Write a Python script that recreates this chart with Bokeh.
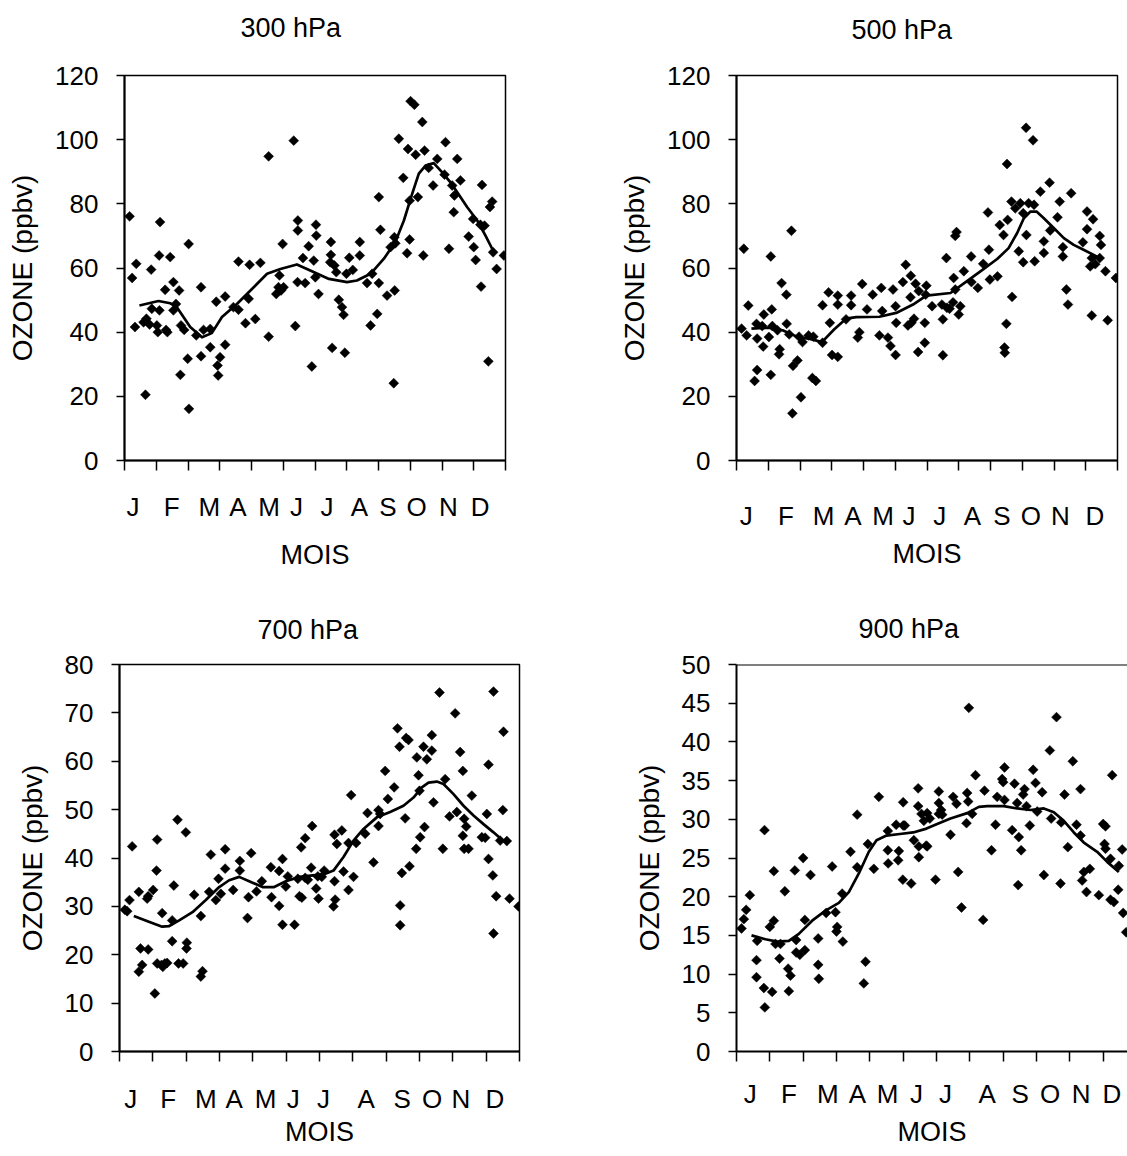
import math
from bokeh.plotting import figure
from bokeh.models import Range1d, FixedTicker, Span, Title
from bokeh.layouts import column, row
from bokeh.embed import file_html
from bokeh.resources import INLINE

# ---------------- data (x = month index, 0 = start of January) ----------------
MONTHS = ["J", "F", "M", "A", "M", "J", "J", "A", "S", "O", "N", "D"]
MONTH_EDGES = list(range(13))

# 300 hPa
p300_month = [0.16,0.37,0.24,0.33,0.84,1.12,1.09,1.44,0.66,0.60,0.69,0.79,0.86,1.02,1.05,1.10,1.31,1.35,1.28,1.54,
              1.72,1.62,1.54,1.78,1.88,2.02,1.99,1.76,2.03,2.41,2.26,2.49,2.70,2.41,2.70,2.89,3.17,3.01,2.93,2.95,
              3.17,3.59,3.94,4.28,3.43,3.59,3.81,4.12,3.91,4.54,4.54,5.33,4.98,4.88,4.78,4.85,5.01,4.93,5.46,5.46,
              5.38,5.45,5.62,5.80,5.69,5.90,6.03,6.04,5.96,6.01,6.11,
              6.50,6.50,6.48,6.61,6.67,6.75,6.85,6.90,6.54,6.94,7.08,7.19,6.99,7.41,7.41,7.64,7.80,8.01,8.27,8.51,
              7.96,7.75,8.01,8.06,8.38,8.50,8.53,8.48,8.90,8.98,9.41,8.64,8.78,8.93,9.17,9.01,9.13,9.38,9.45,9.24,
              8.98,9.58,9.72,9.85,10.11,10.08,10.32,10.48,10.58,10.39,10.37,10.22,10.84,11.00,11.06,11.26,11.58,
              11.51,10.98,11.21,11.34,11.23,11.61,11.72,11.46,11.95]
p300_ozone = [76.1,61.3,56.9,41.6,59.5,74.3,63.9,63.4,20.5,43.1,44.2,42.4,47.3,42.1,40.0,46.8,40.7,40.0,53.2,55.6,
              53.0,48.8,46.8,42.1,40.7,67.5,31.7,26.7,16.1,54.0,39.0,40.7,41.0,32.5,35.3,49.5,51.1,32.2,29.6,26.5,
              36.1,62.0,61.0,61.6,47.8,47.0,42.8,44.1,50.4,94.8,38.6,99.7,67.5,57.7,51.9,54.0,54.0,53.0,74.8,71.7,
              41.9,55.6,63.1,66.8,55.3,29.3,73.5,70.1,62.3,57.1,51.9,
              68.1,64.1,61.8,60.8,58.7,50.1,47.8,45.4,35.1,33.6,63.2,59.4,58.2,68.1,63.9,55.3,58.2,55.3,51.4,53.0,
              45.7,42.1,82.1,71.9,66.5,69.6,67.7,24.1,64.6,68.9,63.9,100.3,88.1,97.1,95.3,112.0,110.9,105.5,96.6,82.1,
              81.0,91.2,85.7,94.0,99.2,89.1,85.7,94.0,87.3,82.6,77.4,66.0,69.8,66.5,62.5,85.9,80.7,
              79.0,75.3,73.5,73.2,54.2,64.9,59.7,30.9,63.9]
p300_fit_month = [0.47,1.07,1.44,1.65,2.07,2.44,2.75,3.07,3.54,4.07,4.49,4.91,5.43,5.85,6.44,7.01,7.32,7.75,8.17,
                  8.53,8.80,9.06,9.27,9.48,9.74,10.0,10.26,10.48,10.79,11.11,11.37,11.58]
p300_fit_ozone = [48.3,49.7,49.0,47.8,41.6,38.4,39.7,44.7,48.8,54.0,58.2,59.7,61.1,59.2,56.6,55.6,56.1,58.2,62.9,
                  68.1,74.8,83.1,89.4,91.9,92.7,89.9,86.8,83.6,79.0,74.8,70.1,66.0]

# 500 hPa
p500_month = [0.16,0.23,0.32,0.37,0.57,0.65,0.63,0.65,0.86,0.84,0.81,1.08,1.11,1.02,1.08,1.13,1.29,1.34,1.36,1.42,
              1.57,1.58,1.66,1.73,1.78,1.92,1.76,2.03,1.97,2.08,2.27,2.42,2.39,2.50,2.71,2.71,2.90,2.94,3.01,3.19,
              3.19,3.19,3.45,3.61,3.61,3.96,3.87,3.82,4.11,4.29,4.56,4.59,4.50,4.77,4.85,5.01,4.93,5.01,5.03,5.24,
              5.33,5.49,5.48,5.40,5.51,5.59,5.64,5.74,5.72,5.93,5.93,5.96,5.98,
              6.16,6.47,6.50,6.50,6.63,6.71,6.82,7.00,7.05,6.89,6.84,6.61,6.89,6.93,7.16,7.39,7.40,7.60,7.77,7.95,
              7.98,8.22,7.92,8.29,8.41,8.54,8.52,8.68,8.50,8.44,8.45,8.66,8.78,8.94,9.03,8.89,9.03,9.13,9.12,9.34,
              9.20,9.37,9.39,9.57,9.68,9.68,9.86,9.88,10.11,10.18,10.54,10.28,10.28,10.39,10.44,10.91,11.04,11.04,
              11.23,11.19,11.14,11.30,11.44,11.48,11.44,11.62,11.19,11.69,11.95]
p500_ozone = [41.1,66.0,39.0,48.3,24.8,28.2,42.6,38.0,45.5,35.5,41.9,63.6,47.1,38.5,26.7,41.9,40.6,33.1,34.7,55.3,
              51.7,42.6,39.3,71.6,29.5,31.2,14.7,19.7,38.6,36.9,39.0,38.6,25.7,24.8,36.7,48.4,52.4,42.9,32.9,32.3,
              51.4,48.6,44.0,51.4,48.4,55.0,40.0,38.3,47.1,51.7,53.8,46.6,39.0,38.3,35.7,32.9,53.3,48.1,42.9,55.6,
              61.0,57.6,50.9,42.1,42.9,44.2,55.1,52.8,33.8,42.9,36.7,51.7,54.5,
              48.1,48.6,44.0,32.8,47.6,47.3,49.3,45.5,48.1,53.3,56.9,63.1,70.0,71.2,59.0,63.6,55.6,53.8,61.3,65.7,
              56.4,57.4,77.3,73.4,70.3,75.0,92.4,51.0,42.6,35.2,33.6,80.7,78.6,80.2,77.1,65.2,61.8,70.3,103.7,99.8,
              80.2,79.7,62.1,83.8,68.3,64.7,86.6,71.7,75.8,80.7,83.3,66.5,63.6,53.3,48.6,68.0,77.6,72.1,
              75.2,63.1,60.5,61.2,70.0,67.2,63.1,59.0,45.2,43.7,56.9]
p500_fit_month = [0.47,1.02,1.45,1.97,2.29,2.69,3.08,3.45,3.77,4.50,5.03,5.56,5.98,6.74,7.26,7.79,8.21,8.57,8.84,
                  9.05,9.26,9.45,9.68,10.0,10.31,10.62,10.93,11.25,11.51]
p500_fit_ozone = [41.1,41.4,40.6,38.3,38.0,36.9,40.9,44.2,44.7,44.8,46.0,48.6,51.4,52.2,55.9,59.7,62.8,66.2,70.9,
                  75.5,77.6,77.6,75.5,72.4,69.3,67.2,65.7,64.1,62.6]

# 700 hPa
p700_month = [0.16,0.23,0.30,0.38,0.58,0.63,0.68,0.58,0.86,0.83,0.86,1.01,1.06,1.13,1.11,1.28,1.13,1.26,1.36,1.43,
              1.30,1.58,1.58,1.63,1.74,1.77,1.91,1.99,2.02,2.01,2.24,2.44,2.49,2.44,2.69,2.74,2.89,2.97,3.04,3.17,
              3.17,3.41,3.61,3.61,3.84,3.87,3.95,4.11,4.27,4.54,4.56,4.79,4.89,5.25,4.79,4.89,4.99,5.05,5.40,5.47,
              5.45,5.57,5.78,5.35,5.57,5.65,5.75,5.90,5.97,5.95,
              6.14,6.07,6.45,6.47,6.42,6.72,6.87,7.02,6.45,6.67,6.52,6.87,6.95,7.10,7.37,7.62,7.44,7.77,7.77,7.82,
              7.97,8.05,8.24,8.57,8.47,8.70,8.42,8.42,8.34,8.40,8.60,8.67,8.92,8.97,9.12,9.22,9.37,9.37,9.00,9.15,
              9.02,8.90,9.42,9.60,9.77,9.70,10.07,10.22,10.30,9.90,10.12,10.34,10.40,10.30,10.34,10.47,10.57,10.87,
              10.97,11.02,11.07,11.07,11.20,11.22,11.22,11.30,11.52,11.50,11.42,11.62,11.70,11.97]
p700_ozone = [29.3,29.0,31.3,42.4,33.0,21.3,17.9,16.5,21.1,31.6,32.1,33.4,12.0,43.8,37.4,28.6,18.2,17.9,18.2,18.3,
              17.5,27.1,22.8,34.3,47.9,18.2,18.2,45.3,22.5,21.3,32.4,28.0,16.6,15.5,33.0,40.7,31.3,35.7,32.6,41.8,
              37.8,33.4,39.4,37.4,27.6,31.9,41.0,33.1,35.2,38.1,31.9,30.1,26.2,26.2,37.3,39.8,34.1,36.2,32.1,31.8,
              42.2,44.1,46.6,35.7,35.9,35.5,38.0,33.7,31.6,36.2,
              37.4,36.1,35.2,31.4,30.0,37.2,33.4,36.1,44.8,45.7,42.9,43.1,53.0,43.1,45.0,39.1,49.3,49.9,46.6,49.1,
              58.0,52.2,54.6,48.2,36.9,38.3,30.2,26.1,66.8,63.0,64.8,64.4,60.8,57.1,63.0,60.4,65.4,62.2,53.9,46.4,
              44.3,41.9,51.5,74.2,56.3,41.9,69.9,61.9,58.0,48.6,49.5,48.1,46.5,44.6,41.9,41.9,52.9,44.3,
              44.2,49.1,59.3,39.8,36.4,24.4,74.4,32.1,66.1,49.9,43.6,43.5,31.6,30.0]
p700_fit_month = [0.43,0.88,1.28,1.48,1.79,2.19,2.59,2.99,3.29,3.59,3.89,4.29,4.64,4.99,5.40,5.80,6.12,6.42,6.72,
                  7.02,7.32,7.72,8.12,8.52,8.82,9.07,9.27,9.52,9.72,10.02,10.32,10.62,10.92,11.22,11.50]
p700_fit_ozone = [28.0,26.8,25.8,25.9,27.1,28.8,31.3,34.0,35.4,36.1,35.2,34.0,34.0,35.2,36.1,36.4,36.6,37.4,40.2,
                  43.6,46.0,48.4,49.5,50.8,52.5,54.6,55.6,55.8,55.3,53.2,50.8,48.8,47.0,45.3,43.6]

# 900 hPa
p900_month = [0.15,0.22,0.29,0.40,0.60,0.60,0.62,0.84,0.82,0.85,1.07,1.00,1.12,1.12,1.17,1.29,1.32,1.45,1.55,1.62,
              1.57,1.75,1.79,1.79,1.90,2.00,2.05,2.22,2.45,2.45,2.47,2.05,2.69,2.87,2.97,3.02,3.00,3.17,3.19,3.42,
              3.62,3.62,3.87,3.82,3.94,4.12,4.27,4.54,4.54,4.55,4.79,4.87,4.85,5.00,5.00,5.05,4.99,5.24,5.32,5.47,
              5.47,5.45,5.45,5.55,5.62,5.69,
              5.72,5.80,5.72,5.97,6.07,6.07,6.07,6.14,6.17,6.42,6.50,6.60,6.65,6.75,6.92,6.95,6.90,7.07,7.17,6.97,
              7.40,7.44,7.65,7.77,7.82,7.97,8.00,8.04,8.04,8.27,8.34,8.42,8.47,8.45,8.54,8.60,8.64,8.70,8.80,8.90,
              8.97,9.02,9.17,9.22,9.40,9.44,9.60,9.72,9.74,9.84,9.94,10.09,10.20,10.32,10.32,10.37,10.42,10.60,
              10.50,10.87,11.00,11.07,11.04,11.07,11.22,11.27,11.22,11.32,11.45,11.47,11.57,11.60,11.69]
p900_ozone = [15.9,17.1,18.3,20.2,11.8,9.6,14.3,28.6,8.2,5.7,7.7,16.1,16.9,23.3,13.9,12.0,13.9,20.7,10.7,9.8,
              7.8,23.4,14.4,12.8,12.5,25.0,13.1,22.8,14.6,11.2,9.4,17.0,17.9,23.9,18.0,16.1,15.5,20.4,14.2,25.8,
              30.6,23.8,11.6,8.8,26.8,23.6,32.9,28.5,26.0,24.3,29.3,25.9,24.7,32.2,29.2,29.2,22.2,21.7,27.3,26.5,
              25.1,34.0,31.7,30.7,29.8,26.6,
              30.8,30.1,26.5,22.2,33.6,32.1,30.7,31.2,30.6,28.0,32.9,32.0,23.2,18.6,33.4,32.3,29.5,30.7,35.7,44.4,
              17.0,33.7,26.0,29.3,32.9,35.2,34.8,36.7,32.5,28.6,34.6,32.1,27.7,21.5,26.0,33.2,33.9,31.7,29.2,36.4,
              34.7,31.0,33.5,22.8,38.9,30.1,43.2,21.7,29.6,33.2,26.4,37.5,29.3,33.9,27.9,22.1,23.2,23.6,
              20.6,20.2,29.4,29.1,26.8,26.2,24.9,35.7,19.6,19.3,20.9,24.0,26.1,17.9,15.4]
p900_fit_month = [0.45,0.87,1.22,1.57,1.87,2.27,2.67,3.07,3.37,3.67,3.97,4.20,4.50,4.90,5.30,5.70,6.02,6.42,6.92,
                  7.27,7.52,8.02,8.42,8.82,9.22,9.52,9.82,10.12,10.42,10.82,11.12,11.47]
p900_fit_ozone = [15.0,14.5,14.2,14.3,15.2,16.9,18.2,19.2,20.6,23.0,25.8,27.3,27.9,28.1,28.3,28.8,29.4,30.1,30.8,
                  31.6,31.7,31.7,31.4,31.2,31.4,30.9,29.8,28.3,27.0,25.8,24.5,23.2]

# where each panel's month letters sit along the axis
p300_letter_pos = [0.27,1.49,2.67,3.57,4.55,5.42,6.38,7.40,8.30,9.20,10.20,11.20]
p500_letter_pos = [0.31,1.56,2.74,3.67,4.62,5.43,6.40,7.43,8.36,9.27,10.20,11.29]
p700_letter_pos = [0.34,1.46,2.59,3.44,4.38,5.21,6.12,7.40,8.48,9.38,10.24,11.26]
p900_letter_pos = [0.41,1.57,2.74,3.63,4.53,5.40,6.27,7.52,8.51,9.41,10.34,11.26]

FONT = "Liberation Sans"


def make_panel(title, px, py, fx, fy, y_max, y_step, letter_pos, width, height, borders,
               x_end=12.0, title_offset=115, title_gap=30, month_standoff=30,
               mois_standoff=10, ylabel_standoff=14, closed=True):
    left, right, top, bottom = borders
    p = figure(width=width, height=height, x_range=Range1d(0, x_end), y_range=Range1d(0, y_max),
               min_border_left=left, min_border_right=right, min_border_top=top,
               min_border_bottom=bottom, output_backend="svg", toolbar_location=None, tools="")
    p.background_fill_color = "white"
    p.border_fill_color = "white"
    p.xgrid.visible = False
    p.ygrid.visible = False

    # spacer between frame and title, then the title itself
    p.add_layout(Title(text=" ", text_font_size="1px", standoff=title_gap), "above")
    p.add_layout(Title(text=title, align="left", offset=title_offset, standoff=0,
                       text_font=FONT, text_font_size="27px", text_font_style="normal",
                       text_color="black"), "above")

    if closed:
        p.outline_line_color = "black"
        p.outline_line_width = 1.5
        p.outline_line_alpha = 1.0
    else:
        p.outline_line_color = None
        p.add_layout(Span(location=y_max, dimension="width", line_color="black", line_width=2))

    # x axis: month boundaries as ticks, month letters as labels
    xa = p.xaxis[0]
    xa.ticker = FixedTicker(ticks=letter_pos, minor_ticks=MONTH_EDGES)
    xa.major_label_overrides = {pos: m for pos, m in zip(letter_pos, MONTHS)}
    xa.major_tick_line_color = None
    xa.major_tick_out = 0
    xa.major_tick_in = 0
    xa.minor_tick_line_color = "black"
    xa.minor_tick_line_width = 1.5
    xa.minor_tick_out = 10
    xa.minor_tick_in = 0
    xa.axis_line_color = "black"
    xa.axis_line_width = 2
    xa.major_label_text_font = FONT
    xa.major_label_text_font_size = "26px"
    xa.major_label_text_color = "black"
    xa.major_label_standoff = month_standoff
    xa.axis_label = "MOIS"
    xa.axis_label_text_font = FONT
    xa.axis_label_text_font_size = "27px"
    xa.axis_label_text_font_style = "normal"
    xa.axis_label_text_color = "black"
    xa.axis_label_standoff = mois_standoff

    ya = p.yaxis[0]
    ya.ticker = FixedTicker(ticks=list(range(0, y_max + 1, y_step)), minor_ticks=[])
    ya.major_tick_line_color = "black"
    ya.major_tick_line_width = 1.5
    ya.major_tick_out = 8
    ya.major_tick_in = 0
    ya.minor_tick_line_color = None
    ya.axis_line_color = "black"
    ya.axis_line_width = 2
    ya.major_label_text_font = FONT
    ya.major_label_text_font_size = "26px"
    ya.major_label_text_color = "black"
    ya.major_label_standoff = 18
    ya.axis_label = "OZONE (ppbv)"
    ya.axis_label_text_font = FONT
    ya.axis_label_text_font_size = "28px"
    ya.axis_label_text_font_style = "normal"
    ya.axis_label_text_color = "black"
    ya.axis_label_standoff = ylabel_standoff

    p.scatter(x=px, y=py, marker="square", angle=math.pi / 4, size=7,
              fill_color="black", line_color="black", line_width=0.5)
    p.line(x=fx, y=fy, line_color="black", line_width=2.7, line_join="round")
    return p


f300 = make_panel("300 hPa", p300_month, p300_ozone, p300_fit_month, p300_fit_ozone, 120, 20,
                  p300_letter_pos, 612, 580, (124, 107, 75, 120),
                  title_offset=116, title_gap=30, month_standoff=21, mois_standoff=15)
f500 = make_panel("500 hPa", p500_month, p500_ozone, p500_fit_month, p500_fit_ozone, 120, 20,
                  p500_letter_pos, 515, 580, (124, 10, 75, 118),
                  title_offset=115, title_gap=28, month_standoff=30, mois_standoff=5)
f700 = make_panel("700 hPa", p700_month, p700_ozone, p700_fit_month, p700_fit_ozone, 80, 10,
                  p700_letter_pos, 612, 576, (119, 93, 83, 105),
                  title_offset=138, title_gap=17, month_standoff=22, mois_standoff=0)
f900 = make_panel("900 hPa", p900_month, p900_ozone, p900_fit_month, p900_fit_ozone, 50, 5,
                  p900_letter_pos, 515, 576, (124, 0, 84, 105),
                  x_end=12 * 391 / 400, title_offset=122, title_gap=18, month_standoff=17,
                  mois_standoff=5, closed=False)

layout = column(row(f300, f500), row(f700, f900))
open("out.html", "w").write(file_html(layout, INLINE))
